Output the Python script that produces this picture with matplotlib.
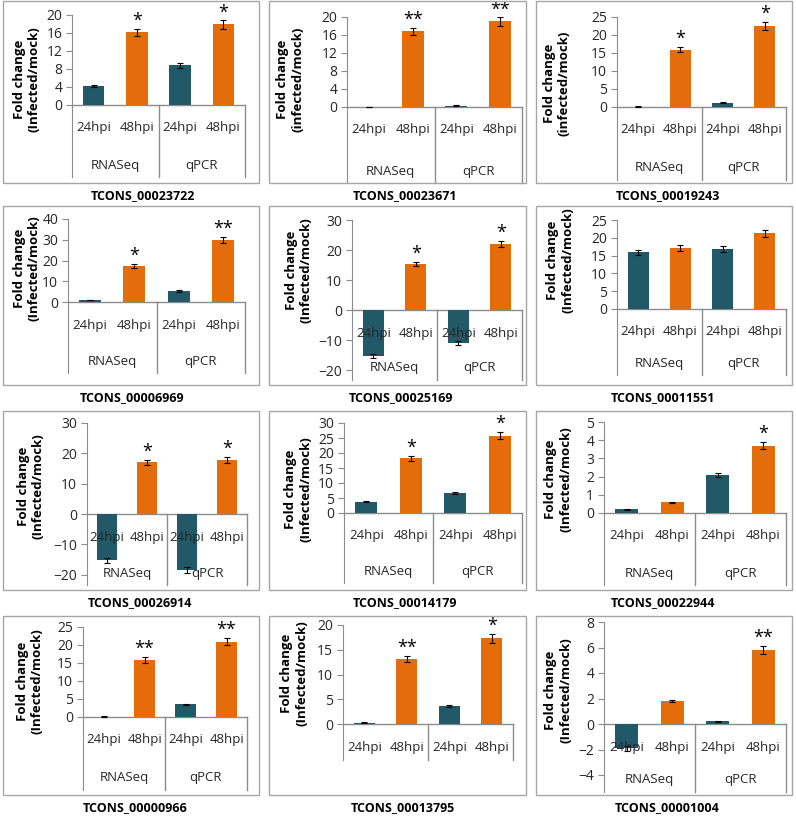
import numpy as np
import matplotlib
matplotlib.use("Agg")
import matplotlib.pyplot as plt
from matplotlib.patches import Rectangle

plt.rcParams['font.family'] = ['Open Sans', 'DejaVu Sans']

W, H = 796, 818
teal = '#215968'
orange = '#E46C0A'
axis_gray = '#8c8c8c'
box_gray = '#a6a6a6'
text_col = '#262626'

timepoints = ['24hpi', '48hpi', '24hpi', '48hpi']
methods = ['RNASeq', 'qPCR']

names = ['TCONS_00023722', 'TCONS_00023671', 'TCONS_00019243',
         'TCONS_00006969', 'TCONS_00025169', 'TCONS_00011551',
         'TCONS_00026914', 'TCONS_00014179', 'TCONS_00022944',
         'TCONS_00000966', 'TCONS_00013795', 'TCONS_00001004']

# RNASeq 24hpi, RNASeq 48hpi, qPCR 24hpi, qPCR 48hpi
values = [[4.2, 16.2, 8.8, 17.9],
          [0.05, 16.8, 0.3, 19.0],
          [0.1, 15.9, 1.2, 22.5],
          [1.0, 17.3, 5.2, 29.8],
          [-15.2, 15.4, -11.0, 22.0],
          [15.9, 17.2, 16.8, 21.3],
          [-15.3, 17.0, -18.5, 17.9],
          [3.8, 18.2, 6.7, 25.8],
          [0.2, 0.58, 2.1, 3.7],
          [0.1, 15.8, 3.6, 20.9],
          [0.3, 13.2, 3.7, 17.3],
          [-1.9, 1.8, 0.2, 5.8]]
errors = [[0.3, 0.8, 0.5, 0.9],
          [0.02, 0.8, 0.05, 0.9],
          [0.05, 0.7, 0.15, 1.1],
          [0.1, 0.9, 0.4, 1.5],
          [0.7, 0.7, 0.6, 1.1],
          [0.8, 0.8, 0.8, 1.0],
          [0.8, 0.9, 1.0, 1.0],
          [0.1, 0.8, 0.3, 1.2],
          [0.02, 0.04, 0.1, 0.2],
          [0.05, 0.8, 0.15, 1.0],
          [0.05, 0.6, 0.2, 0.9],
          [0.2, 0.1, 0.02, 0.3]]
stars = [['', '*', '', '*'],
         ['', '**', '', '**'],
         ['', '*', '', '*'],
         ['', '*', '', '**'],
         ['', '*', '', '*'],
         ['', '', '', ''],
         ['', '*', '', '*'],
         ['', '*', '', '*'],
         ['', '', '', '*'],
         ['', '**', '', '**'],
         ['', '**', '', '*'],
         ['', '', '', '**']]
ymax = [20, 20, 25, 40, 30, 25, 30, 30, 5, 25, 20, 8]
ystep = [4, 4, 5, 10, 10, 5, 10, 5, 1, 5, 5, 2]
ymin_tick = [0, 0, 0, 0, -20, 0, -20, 0, 0, 0, 0, -4]
ylabels = ['Fold change\n(Infected/mock)', 'Fold change\n(infected/mock)',
           'Fold change\n(infected/mock)'] + ['Fold change\n(Infected/mock)'] * 9
show_methods = [True] * 10 + [False, True]

# plot geometry in pixels: left, right, top tick, zero line, bottom
geom = [(72, 245, 15, 105, 177), (347, 522, 17, 107, 183), (617, 786, 17, 107, 180),
        (68, 245, 219, 302, 373), (352, 522, 220, 310, 380), (617, 786, 220, 309, 375),
        (87, 247, 423, 514, 585), (344, 522, 423, 513, 583), (604, 786, 422, 513, 585),
        (83, 247, 627, 717, 790), (343, 513, 625, 724, 760), (604, 786, 622, 724, 792)]
ylab_pos = [(27, 79), (290, 79), (557, 83), (27, 268), (299, 270), (560, 260),
            (31, 486), (298, 489), (558, 479), (30, 681), (294, 673), (558, 690)]
title_x = [143, 405, 668, 132, 401, 663, 140, 405, 663, 135, 403, 667]
title_y = [196, 196, 196, 398, 398, 398, 603, 603, 603, 808, 808, 808]
box_x = [(3, 259), (269, 526), (536, 792)]
box_y = [(1, 183), (206, 385), (411, 590), (616, 795)]

fig = plt.figure(figsize=(W / 100, H / 100), dpi=100)

for bx0, bx1 in box_x:
    for by0, by1 in box_y:
        fig.add_artist(Rectangle((bx0 / W, 1 - by1 / H), (bx1 - bx0) / W, (by1 - by0) / H,
                                 transform=fig.transFigure, fill=False,
                                 edgecolor=box_gray, linewidth=1))

x = np.arange(4)
for i in range(12):
    l, r, t, z, b = geom[i]
    ax = fig.add_axes([l / W, 1 - b / H, (r - l) / W, (b - t) / H])
    scale = ymax[i] / (z - t)
    ylo = -(b - z) * scale
    ax.set_xlim(-0.5, 3.5)
    ax.set_ylim(ylo, ymax[i])
    ax.bar(x, values[i], 0.5, color=[teal, orange, teal, orange], zorder=2,
           yerr=errors[i], error_kw=dict(ecolor='black', elinewidth=0.8,
                                         capsize=2.5, capthick=0.8, zorder=3))
    ax.set_yticks(np.arange(ymin_tick[i], ymax[i] + 0.001, ystep[i]))
    ax.set_xticks([])
    for s in ['top', 'right', 'bottom']:
        ax.spines[s].set_visible(False)
    ax.spines['left'].set_color(axis_gray)
    ax.tick_params(axis='y', direction='out', length=4, color=axis_gray,
                   labelsize=10, labelcolor=text_col, pad=3)
    ax.plot([-0.5, 3.5], [0, 0], color=axis_gray, lw=1, zorder=1, clip_on=False)
    for xd in [1.5, 3.5]:
        ax.plot([xd, xd], [ylo, 0], color=axis_gray, lw=1, zorder=1, clip_on=False)
    for j in range(4):
        ax.annotate(timepoints[j], xy=(x[j], 0), xytext=(0, -23), textcoords='offset pixels',
                    ha='center', va='center', fontsize=9.5, color=text_col, zorder=5)
        if stars[i][j]:
            top = values[i][j] + errors[i][j]
            ax.annotate(stars[i][j], xy=(x[j], top), xytext=(0, -1), textcoords='offset pixels',
                        ha='center', va='bottom', fontsize=13, color='black', zorder=5)
    if show_methods[i]:
        for k in range(2):
            ax.annotate(methods[k], xy=(0.5 + 2 * k, ylo), xytext=(0, 12),
                        textcoords='offset pixels', ha='center', va='center',
                        fontsize=9.5, color=text_col, zorder=5)
    cx, cy = ylab_pos[i]
    fig.text(cx / W, 1 - cy / H, ylabels[i], rotation=90, ha='center', va='center',
             fontsize=9.5, fontweight='bold', linespacing=1.2, color='black')
    fig.text(title_x[i] / W, 1 - title_y[i] / H, names[i], ha='center', va='center',
             fontsize=9, fontweight='bold', color='black')

fig.savefig('out.png', dpi=100)
